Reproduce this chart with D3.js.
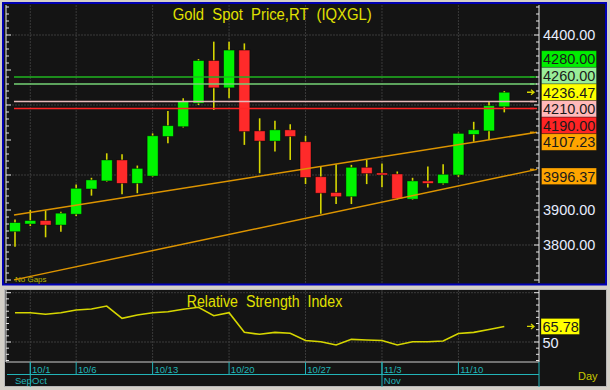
<!DOCTYPE html>
<html>
<head>
<meta charset="utf-8">
<script src="https://cdn.jsdelivr.net/npm/d3@7/dist/d3.min.js"></script>
<style>
  body { margin: 0; background: #d4d0c8; }
  svg { display: block; }
</style>
</head>
<body>
<div class="container"></div>
<script>
// ---- data ----
var dates = ["9/30","10/1","10/2","10/3","10/6","10/7","10/8","10/9","10/10",
  "10/13","10/14","10/15","10/16","10/17","10/20","10/21","10/22","10/23","10/24",
  "10/27","10/28","10/29","10/30","10/31","11/3","11/4","11/5","11/6","11/7",
  "11/10","11/11","11/12","11/13"];
var opens  = [3838,3860,3870,3857,3888,3960,3983,4043,3976,3997,4110,4138,4205,4327,4249,4357,4126,4097,4129,4095,3995,3950,3938,4022,4006,4003,3931,3983,3976,4000,4116,4126,4195];
var highs  = [3873,3900,3899,3895,3973,3992,4062,4059,4027,4119,4183,4219,4331,4381,4381,4376,4162,4155,4145,4112,4024,4031,4029,4043,4033,4010,3992,4024,4031,4121,4152,4210,4240];
var lows   = [3795,3854,3822,3838,3883,3941,3981,3945,3948,3995,4091,4136,4200,4186,4219,4086,4005,4067,4043,3974,3889,3917,3917,3974,3965,3930,3929,3964,3973,3995,4095,4100,4179];
var closes = [3864,3870,3857,3891,3962,3986,4043,3976,4019,4112,4141,4210,4327,4249,4357,4124,4097,4129,4110,3993,3948,3938,4022,4004,4000,3932,3983,3976,4002,4119,4129,4198,4236.47];
var rsi    = [79.7,79.7,78.1,79.7,82.5,83.5,86.5,74.0,77.4,79.7,80.7,83.2,85.2,76.7,79.7,59.8,57.8,59.8,58.8,51.5,50.3,47.0,52.7,52.0,51.5,47.0,50.3,50.3,51.0,58.6,59.8,62.7,65.78];

var levelValues = [4280, 4260, 4210, 4190];
var upperTrend = [3886, 4107.23];   // value at first and last bar
var lowerTrend = [3701, 3996.37];
var priceTickLabels = [4400, 4300, 4200, 4100, 4000, 3900, 3800];
var priceGrid = [4400, 4200, 4000, 3800];
var rsiTickLabels = [50];
var rsiGrid = [50, 100];
var dateTicks = ["10/1","10/6","10/13","10/20","10/27","11/3","11/10"];
var months = ["Sep","Oct","Nov"];
var monthStarts = ["9/30","10/1","11/3"];

// ---- styles ----
const WIDTH = 610, HEIGHT = 390;
const BG = "#141414", GRID = "#3a3a3a", YEL = "#d6d600", CYAN = "#22b4b8";
const levelLine = ["#1fb51f", "#74d274", "#e6b9b9", "#ff2424"];
const levelBox  = ["#00ee00", "#99ee99", "#ffb9b9", "#ff2424"];
const TREND = "#dc9400", ORANGE = "#ffa500";
const NARROW = "'Liberation Sans Narrow','Arial Narrow','Liberation Sans',sans-serif";
const SANS = "'Liberation Sans',Arial,sans-serif";

const PLOT_L = 6, PLOT_R = 539, MAIN_T = 5, MAIN_B = 283, RSI_T = 290, RSI_B = 362;

var x = d3.scaleLinear().domain([0, dates.length - 1]).range([15, 504.3]);
var y = d3.scaleLinear().domain([3800, 4400]).range([245, 35]);
var yr = d3.scaleLinear().domain([50, 100]).range([342, 292.7]);

var svg = d3.select(".container").append("svg")
  .attr("width", WIDTH).attr("height", HEIGHT);

svg.append("rect").attr("width", WIDTH).attr("height", HEIGHT).attr("fill", "#d4d0c8");

// panels
svg.append("rect").attr("x", 3).attr("y", 3).attr("width", 603).attr("height", 281.5)
  .attr("fill", BG).attr("stroke", "#0000b4").attr("stroke-width", 2);
svg.append("rect").attr("x", 4.5).attr("y", 289.5).attr("width", 602).attr("height", 97)
  .attr("fill", BG).attr("stroke", "#b8b8b8").attr("stroke-width", 1);

var main = svg.append("g");
var weekIdx = dateTicks.map(function(d){ return dates.indexOf(d); });

// grid
main.selectAll(".vg").data(weekIdx).enter().append("line")
  .attr("x1", function(i){ return x(i); }).attr("x2", function(i){ return x(i); })
  .attr("y1", MAIN_T).attr("y2", MAIN_B).attr("stroke", GRID).attr("stroke-dasharray", "2,1");
main.selectAll(".hg").data(priceGrid).enter().append("line")
  .attr("x1", PLOT_L).attr("x2", PLOT_R).attr("y1", y).attr("y2", y)
  .attr("stroke", GRID).attr("stroke-dasharray", "2,1");

// candles
var idx = d3.range(dates.length);
main.selectAll(".wick").data(idx).enter().append("line")
  .attr("x1", function(i){ return x(i); }).attr("x2", function(i){ return x(i); })
  .attr("y1", function(i){ return y(highs[i]); }).attr("y2", function(i){ return y(lows[i]); })
  .attr("stroke", YEL).attr("stroke-width", 1.6);
main.selectAll(".body").data(idx).enter().append("rect")
  .attr("x", function(i){ return x(i) - 5.5; }).attr("width", 11)
  .attr("y", function(i){ return y(Math.max(opens[i], closes[i])); })
  .attr("height", function(i){ return Math.max(1.5, Math.abs(y(opens[i]) - y(closes[i]))); })
  .attr("fill", function(i){ return closes[i] >= opens[i] ? "#00f400" : "#ff2a2a"; })
  .attr("stroke", "rgba(0,0,0,0.55)").attr("stroke-width", 0.8);

// "No Gaps"
main.append("text").attr("x", 15).attr("y", 282).text("No Gaps")
  .attr("font-family", SANS).attr("font-size", 8).attr("fill", "#b4b400");

// level lines
main.selectAll(".lvl").data(levelValues).enter().append("line")
  .attr("x1", 14).attr("x2", 537).attr("y1", y).attr("y2", y)
  .attr("stroke", function(d, i){ return levelLine[i]; }).attr("stroke-width", 1.6);

// trend lines
function trendAt(t, i){ return t[0] + (t[1] - t[0]) * i / (dates.length - 1); }
[upperTrend, lowerTrend].forEach(function(t){
  var i0 = x.invert(14), i1 = x.invert(537);
  main.append("line").attr("x1", 14).attr("x2", 537)
    .attr("y1", y(trendAt(t, i0))).attr("y2", y(trendAt(t, i1)))
    .attr("stroke", TREND).attr("stroke-width", 1.5);
});

// axis (left and right tick marks)
var minor = d3.range(3700, 4481, 20);
function tickMarks(xPos, dir, vals, scale, major){
  var g = main.append("g");
  g.append("line").attr("x1", xPos).attr("x2", xPos)
    .attr("y1", scale.range()[0] > 300 ? RSI_T : MAIN_T).attr("y2", scale.range()[0] > 300 ? RSI_B : MAIN_B)
    .attr("stroke", "#e8e8e8");
  g.selectAll("line.t").data(vals.filter(function(v){
      var p = scale(v); return scale.range()[0] > 300 ? (p > RSI_T && p < RSI_B) : (p > MAIN_T && p < MAIN_B);
    })).enter().append("line")
    .attr("x1", xPos).attr("x2", function(v){ return xPos + dir * (major(v) ? 5 : 3); })
    .attr("y1", scale).attr("y2", scale).attr("stroke", "#e8e8e8");
}
tickMarks(PLOT_R, -1, minor, y, function(v){ return v % 100 === 0; });
tickMarks(PLOT_L, 1, minor, y, function(v){ return v % 100 === 0; });

// colored marks at right edge
levelValues.forEach(function(v, i){
  main.append("line").attr("x1", 530).attr("x2", 534).attr("y1", y(v)).attr("y2", y(v))
    .attr("stroke", levelLine[i]).attr("stroke-width", 1.5);
});
[upperTrend, lowerTrend].forEach(function(t){
  var v = trendAt(t, x.invert(537));
  main.append("line").attr("x1", 530).attr("x2", 534).attr("y1", y(v)).attr("y2", y(v))
    .attr("stroke", TREND).attr("stroke-width", 1.5);
});
function arrow(g, yy){
  g.append("path").attr("d", "M527," + yy + "H534M531," + (yy - 2.5) + "L534," + yy + "L531," + (yy + 2.5))
    .attr("stroke", YEL).attr("stroke-width", 1.3).attr("fill", "none");
}
var lastClose = closes[closes.length - 1];
arrow(main, y(lastClose));

// right labels with simple stacking around the last price
var boxes = [
  {v: 4280, t: "4280.00", c: levelBox[0]},
  {v: 4260, t: "4260.00", c: levelBox[1]},
  {v: lastClose, t: lastClose.toFixed(2), c: "#ffff00", anchor: true},
  {v: 4210, t: "4210.00", c: levelBox[2]},
  {v: 4190, t: "4190.00", c: levelBox[3]},
  {v: upperTrend[1], t: upperTrend[1].toFixed(2), c: ORANGE},
  {v: lowerTrend[1], t: lowerTrend[1].toFixed(2), c: ORANGE}
];
var BH = 16.6;
boxes.forEach(function(b){ b.y = y(b.v); });
var a = boxes.findIndex(function(b){ return b.anchor; });
for (var j = a - 1; j >= 0; j--) boxes[j].y = Math.min(boxes[j].y, boxes[j + 1].y - BH);
for (var k = a + 1; k < boxes.length; k++) boxes[k].y = Math.max(boxes[k].y, boxes[k - 1].y + BH);

var bg = main.selectAll(".lb").data(boxes).enter().append("g");
bg.append("rect").attr("x", 541.5).attr("width", 55).attr("y", function(b){ return b.y - BH / 2; })
  .attr("height", BH).attr("fill", function(b){ return b.c; })
  .attr("stroke", "rgba(0,0,0,0.35)").attr("stroke-width", 0.8);
bg.append("text").attr("x", 543).attr("y", function(b){ return b.y + 5.3; }).text(function(b){ return b.t; })
  .attr("font-family", SANS).attr("font-size", 14.5).attr("fill", "#1a1a1a");

main.selectAll(".pl").data(priceTickLabels.filter(function(v){
    return boxes.every(function(b){ return Math.abs(b.y - y(v)) > 16; });
  })).enter().append("text")
  .attr("x", 543).attr("y", function(v){ return y(v) + 5.3; })
  .text(function(v){ return v.toFixed(2); })
  .attr("font-family", SANS).attr("font-size", 14.5).attr("fill", "#e6ecff");

// title
main.append("text").attr("x", 172.7).attr("y", 19.5).text("Gold  Spot  Price,RT  (IQXGL)")
  .style("white-space", "pre").attr("textLength", 199).attr("lengthAdjust", "spacingAndGlyphs")
  .attr("font-family", NARROW).attr("font-size", 16).attr("fill", "#e0e000");

// ---- RSI panel ----
var low = svg.append("g");
low.selectAll(".vg").data(weekIdx).enter().append("line")
  .attr("x1", function(i){ return x(i); }).attr("x2", function(i){ return x(i); })
  .attr("y1", RSI_T).attr("y2", RSI_B).attr("stroke", GRID).attr("stroke-dasharray", "2,1");
low.selectAll(".hg").data(rsiGrid).enter().append("line")
  .attr("x1", PLOT_L).attr("x2", PLOT_R).attr("y1", yr).attr("y2", yr)
  .attr("stroke", GRID).attr("stroke-dasharray", "2,1");

low.append("text").attr("x", 186.7).attr("y", 307).text("Relative  Strength  Index")
  .style("white-space", "pre").attr("textLength", 155.6).attr("lengthAdjust", "spacingAndGlyphs")
  .attr("font-family", NARROW).attr("font-size", 16).attr("fill", "#e0e000");

var rsiLine = d3.line().x(function(d, i){ return x(i); }).y(function(d){ return yr(d); });
low.append("path").datum(rsi).attr("d", rsiLine)
  .attr("fill", "none").attr("stroke", YEL).attr("stroke-width", 1.6);

var rsiMinor = d3.range(31.25, 103, 6.25);
main = low;
tickMarks(PLOT_R, -1, rsiMinor, yr, function(v){ return v % 50 === 0; });
tickMarks(PLOT_L, 1, rsiMinor, yr, function(v){ return v % 50 === 0; });
low.append("line").attr("x1", PLOT_L).attr("x2", PLOT_R).attr("y1", RSI_B).attr("y2", RSI_B)
  .attr("stroke", "#cfcfcf");

var lastRsi = rsi[rsi.length - 1];
arrow(low, yr(lastRsi));
low.append("rect").attr("x", 541).attr("y", yr(lastRsi) - 8).attr("width", 38.5).attr("height", 16)
  .attr("fill", "#ffff00").attr("stroke", "rgba(0,0,0,0.35)").attr("stroke-width", 0.8);
low.append("text").attr("x", 542.5).attr("y", yr(lastRsi) + 5.3).text(lastRsi.toFixed(2))
  .attr("font-family", SANS).attr("font-size", 14.5).attr("fill", "#1a1a1a");
low.selectAll(".rl").data(rsiTickLabels).enter().append("text")
  .attr("x", 542.5).attr("y", function(v){ return yr(v) + 5.8; }).text(function(v){ return v; })
  .attr("font-family", SANS).attr("font-size", 14.5).attr("fill", "#e6ecff");

// ---- date axis ----
var ax = svg.append("g");
ax.append("line").attr("x1", 7).attr("x2", PLOT_R).attr("y1", 374.5).attr("y2", 374.5)
  .attr("stroke", CYAN);
ax.selectAll(".dt").data(weekIdx).enter().append("line")
  .attr("x1", function(i){ return x(i); }).attr("x2", function(i){ return x(i); })
  .attr("y1", RSI_B).attr("y2", 374.5).attr("stroke", CYAN);
ax.selectAll(".dl").data(weekIdx).enter().append("text")
  .attr("x", function(i){ return x(i) + 1.8; }).attr("y", 372.5)
  .text(function(i){ return dates[i]; })
  .attr("font-family", NARROW).attr("font-size", 9.5).attr("fill", CYAN);

var mIdx = monthStarts.map(function(d){ return dates.indexOf(d); });
ax.selectAll(".ml").data(mIdx.slice(1)).enter().append("line")
  .attr("x1", function(i){ return x(i); }).attr("x2", function(i){ return x(i); })
  .attr("y1", RSI_B).attr("y2", 387).attr("stroke", CYAN);
ax.append("line").attr("x1", PLOT_R).attr("x2", PLOT_R).attr("y1", RSI_B).attr("y2", 387)
  .attr("stroke", CYAN);
ax.selectAll(".mt").data(mIdx).enter().append("text")
  .attr("x", function(i, n){ return n === 0 ? x(i) : x(i) + 1.8; }).attr("y", 384)
  .text(function(i, n){ return months[n]; })
  .attr("font-family", NARROW).attr("font-size", 9.5).attr("fill", CYAN);

ax.append("text").attr("x", 578).attr("y", 380).text("Day")
  .attr("font-family", NARROW).attr("font-size", 11).attr("fill", "#c8c800");
</script>
</body>
</html>
